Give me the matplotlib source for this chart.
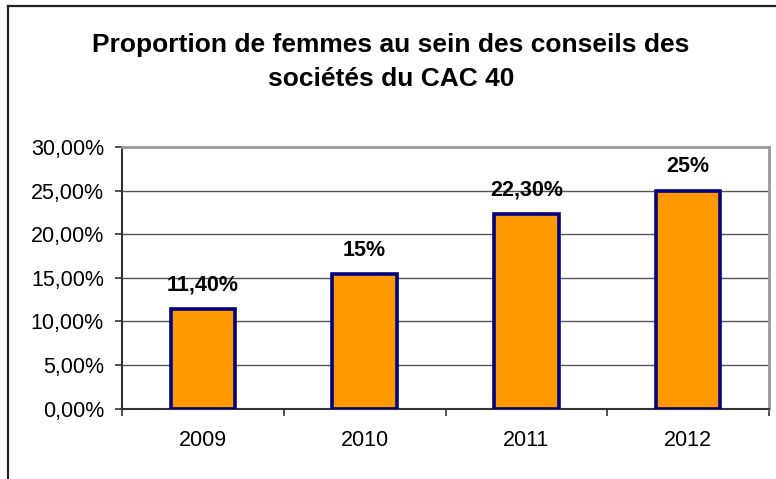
import matplotlib.pyplot as plt
from matplotlib.lines import Line2D
from matplotlib.ticker import FuncFormatter

plt.rcParams['font.family'] = ['Liberation Sans', 'DejaVu Sans']

years = ['2009', '2010', '2011', '2012']
values = [11.4, 15.4, 22.3, 25.0]
labels = ['11,40%', '15%', '22,30%', '25%']
yticks = [0, 5, 10, 15, 20, 25, 30]

title = 'Proportion de femmes au sein des conseils des\nsociétés du CAC 40'

fig = plt.figure(figsize=(7.76, 4.79), dpi=100)
ax = fig.add_axes([0.1572, 0.1468, 0.8338, 0.5463])

x = list(range(len(years)))
bars = ax.bar(x, values, width=0.4, color='#FF9900', edgecolor='#000080',
              linewidth=2.6, zorder=3)

for b, lab in zip(bars, labels):
    ax.annotate(lab, (b.get_x() + b.get_width() / 2, b.get_height()),
                xytext=(0, 13.5), textcoords='offset points',
                ha='center', va='baseline', fontsize=15.5, fontweight='bold')

ax.set_xlim(-0.5, len(years) - 0.5)
ax.set_ylim(0, 30)
ax.set_yticks(yticks)
ax.yaxis.set_major_formatter(FuncFormatter(lambda v, p: f'{v:.2f}%'.replace('.', ',')))
ax.yaxis.grid(True, color='#555555', linewidth=1.0, zorder=0)
ax.set_axisbelow(True)

# ticks between categories, labels at centres
ax.set_xticks([i - 0.5 for i in range(len(years) + 1)])
ax.set_xticklabels([])
ax.set_xticks(x, minor=True)
ax.set_xticklabels(years, minor=True)
ax.tick_params(axis='x', which='major', length=5, width=1.2, color='#333333')
ax.tick_params(axis='x', which='minor', length=0, pad=15, labelsize=15.5)
ax.tick_params(axis='y', length=5, width=1.2, color='#333333', pad=8, labelsize=15.5)

for s in ['top', 'right']:
    ax.spines[s].set_color('#999999')
    ax.spines[s].set_linewidth(2)
for s in ['left', 'bottom']:
    ax.spines[s].set_color('#333333')
    ax.spines[s].set_linewidth(1.5)

fig.text(0.504, 1 - 33 / 479, title, ha='center', va='top', fontsize=19,
         fontweight='bold', linespacing=1.5)

# outer chart frame (only top and left edges visible)
fig.add_artist(Line2D([7.5 / 776, 7.5 / 776], [0, 1 - 6 / 479], transform=fig.transFigure,
                      color='#222222', linewidth=1.6))
fig.add_artist(Line2D([7.5 / 776, 1], [1 - 6 / 479, 1 - 6 / 479], transform=fig.transFigure,
                      color='#222222', linewidth=1.6))

fig.savefig('out.png', dpi=100)
